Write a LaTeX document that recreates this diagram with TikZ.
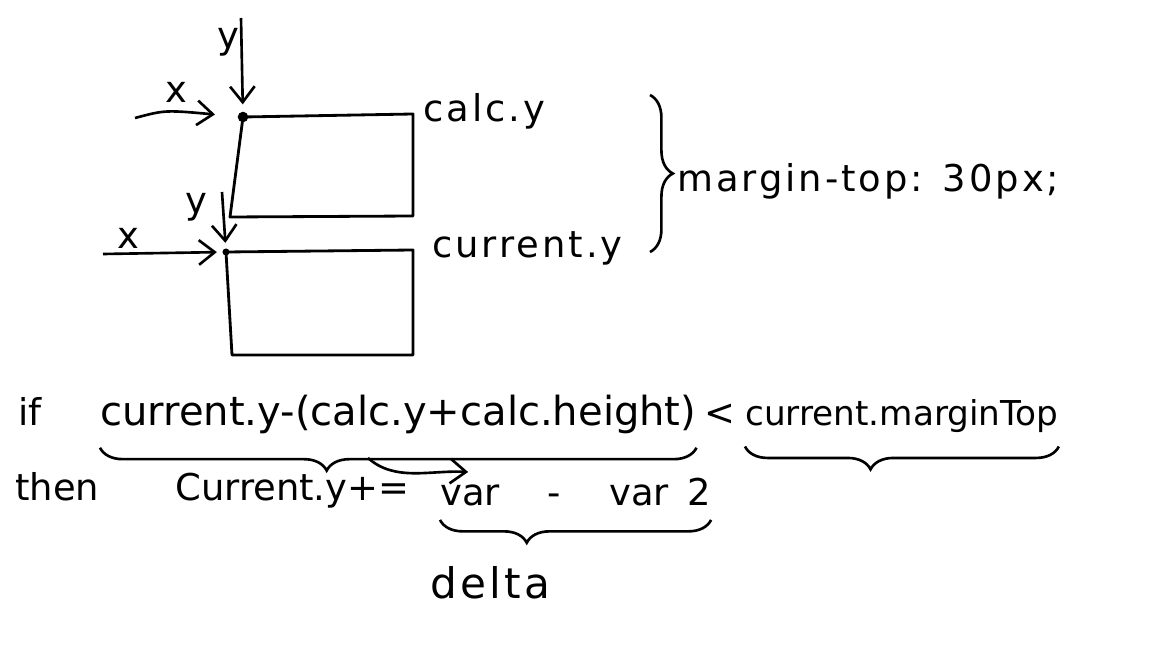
\documentclass[tikz,border=0pt]{standalone}
\usepackage{fontspec}
\setmainfont{DejaVu Sans}
\newfontfamily\handwide[LetterSpace=8]{DejaVu Sans}
\usetikzlibrary{arrows.meta,decorations.pathreplacing}
\tikzset{%
  block/.style = {draw, line width=1.6pt, line join=round},%
  hand/.style  = {font=\fontsize{21}{25}\selectfont, inner sep=0pt},%
  wide/.style  = {font=\fontsize{21}{25}\handwide, inner sep=0pt},%
  brc/.style   = {decorate, line width=1.5pt,%
                  decoration={brace, amplitude=13pt}},%
  arr/.style   = {-{Straight Barb[length=9pt,width=14pt]}, line width=1.5pt},%
  corner/.style= {circle, fill, inner sep=0pt, minimum size=6pt}%
}
\begin{document}
\begin{tikzpicture}[x=0.02cm,y=-0.02cm]
	\useasboundingbox (0,0) rectangle (1152,648);
	% upper block
	\coordinate (calcTL) at (243,117);
	\coordinate (calcTR) at (413,114);
	\coordinate (calcBR) at (413,216);
	\coordinate (calcBL) at (230,217);
	\draw [block] (calcTL) -- (calcTR) -- (calcBR) -- (calcBL) -- cycle;
	\node [corner] (calcDot) at (calcTL) {};
	\coordinate (calcYs) at (241,18);
	\coordinate (calcXs) at (135,118);
	\draw [arr, shorten >=4pt] (calcYs) -- (calcDot);
	\draw [arr, shorten >=0.45cm] (calcXs) .. controls (165,110) .. (calcDot);
	\node [hand] (calcY) at (228,42) {y};
	\node [hand] (calcX) at (176,92) {x};
	\node [wide, anchor=base west] (calcLbl) at (423,122) {calc.y};
	% lower block
	\coordinate (curTL) at (226,252);
	\coordinate (curTR) at (413,250);
	\coordinate (curBR) at (413,355);
	\coordinate (curBL) at (232,355);
	\draw [block] (curTL) -- (curTR) -- (curBR) -- (curBL) -- cycle;
	\node [corner, minimum size=4pt] (curDot) at (curTL) {};
	\coordinate (curYs) at (222,192);
	\coordinate (curXs) at (103,254);
	\draw [arr, shorten >=3pt] (curYs) -- (curDot);
	\draw [arr, shorten >=3pt] (curXs) -- (curDot);
	\node [hand] (curY) at (196,207) {y};
	\node [hand] (curX) at (128,238) {x};
	\node [wide, anchor=base west] (curLbl) at (432,258) {current.y};
	% gap between the blocks
	\coordinate (gapTop) at (650,95);
	\coordinate (gapBot) at (650,252);
	\draw [brc] (gapTop) -- (gapBot);
	\node [wide, anchor=base west] (gapLbl) at (677,192) {margin-top: 30px;};
	% condition
	\node [hand, anchor=base west] (ifKw) at (18,425) {if};
	\node [hand, font=\fontsize{22.8}{26}\selectfont, anchor=base west] (cond) at (100,425) {current.y-(calc.y+calc.height)};
	\node [hand, anchor=base west] (lt) at (704,425) {<};
	\node [hand, font=\fontsize{19.5}{24}\selectfont, anchor=base west] (mTop) at (745,425) {current.marginTop};
	\draw [brc, decoration={aspect=0.62}] ([yshift=-8pt]cond.south east) -- ([yshift=-8pt]cond.south west);
	\draw [brc, decoration={aspect=0.6}] ([yshift=-8pt]mTop.south east) -- ([yshift=-8pt]mTop.south west);
	% update
	\node [hand, anchor=base west] (thenKw) at (15,500) {then};
	\node [hand, anchor=base west] (upd) at (175,500) {Current.y+=};
	\node [hand, anchor=base west] (diff) at (440,505) {var\hspace{1.3em}-\hspace{1.3em}var\hspace{0.5em}2};
	\draw [brc, decoration={aspect=0.68}] ([yshift=-8pt]diff.south east) -- ([yshift=-8pt]diff.south west);
	\node [wide, font=\fontsize{24}{28}\handwide, anchor=base west] (delta) at (430,598) {delta};
	\coordinate (condTip) at (368,458);
	\draw [arr] (condTip) .. controls (395,482) and (430,470) .. ([xshift=16pt,yshift=3pt]diff.north west);
\end{tikzpicture}
\end{document}
